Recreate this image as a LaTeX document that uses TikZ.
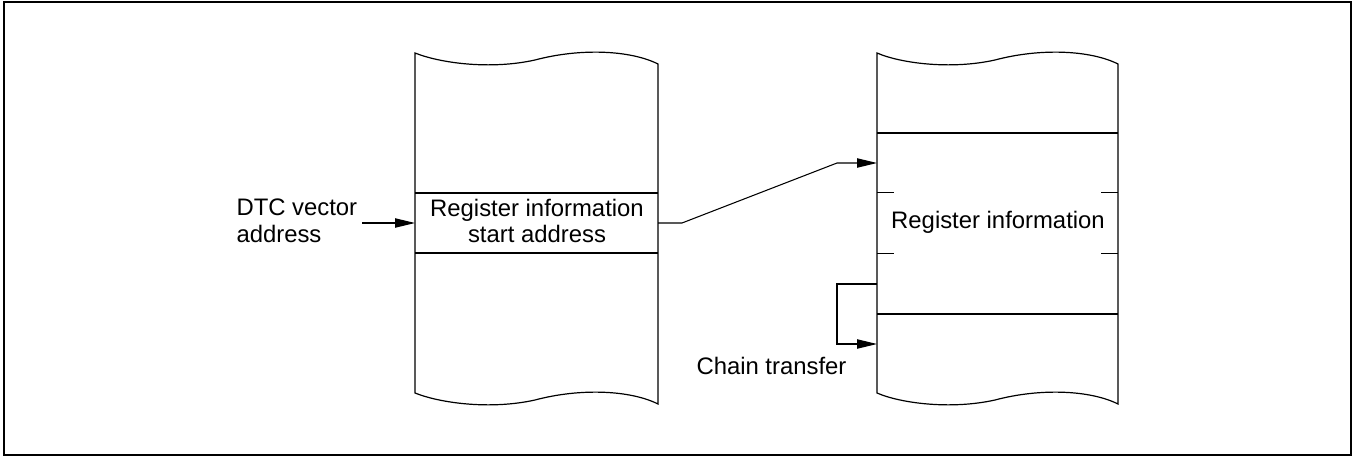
\documentclass[tikz,border=0pt]{standalone}
\usepackage{fontspec}
\setmainfont{Liberation Sans}
\usetikzlibrary{arrows.meta}
\begin{document}
\begin{tikzpicture}[x=0.75pt,y=-0.75pt,
  line width=0.8pt,
  lbl/.style={inner sep=0pt,font=\fontsize{17.9}{20}\selectfont},
  arr/.style={-{Triangle[length=15pt,width=7pt]}},
  mem/.style={line width=0.9pt}]
\useasboundingbox (0,0) rectangle (1356,457);
\draw[line width=0.8pt] (4,2) rectangle (1351,455);

% left memory
\draw[mem] (658,64) .. controls (630,50) and (580,48) .. (535,60)
  .. controls (490,70) and (440,63) .. (415,53) -- (415,393)
  .. controls (440,403) and (490,410) .. (535,400)
  .. controls (580,388) and (630,390) .. (658,404) -- cycle;
\draw[mem] (415,193) -- (658,193);
\draw[mem] (415,253) -- (658,253);
\coordinate (Lin) at (415,223);
\coordinate (Lout) at (658,223);
\node[lbl,align=center] (rsa) at (537,221) {Register information\\start address};

% right memory
\draw[mem] (1118,64) .. controls (1090,50) and (1040,48) .. (995,60)
  .. controls (950,70) and (900,63) .. (877,53) -- (877,393)
  .. controls (900,403) and (950,410) .. (995,400)
  .. controls (1040,388) and (1090,390) .. (1118,404) -- cycle;
\draw[mem] (877,133) -- (1118,133);
\draw[mem] (877,314) -- (1118,314);
\draw[line width=0.7pt] (877,192) -- (894,192) (1101,192) -- (1118,192);
\draw[line width=0.7pt] (877,253) -- (894,253) (1101,253) -- (1118,253);
\node[lbl] (ri) at (998,222) {Register information};
\coordinate (Rin) at (877,163);
\coordinate (Cfrom) at (877,284);
\coordinate (Cto) at (877,344);

% DTC vector address
\node[lbl,align=left,anchor=west] (dtc) at (236,221) {DTC vector\\address};
\coordinate (dtcE) at (362,223);
\draw[arr] (dtcE) -- (Lin);

% link
\draw[arr] (Lout) -- ++(24,0) -- (837,163) -- (Rin);

% chain transfer
\draw[arr] (Cfrom) -- (837,284) -- (837,344) -- (Cto);
\node[lbl,anchor=west] (ct) at (696,366) {Chain transfer};
\end{tikzpicture}
\end{document}
